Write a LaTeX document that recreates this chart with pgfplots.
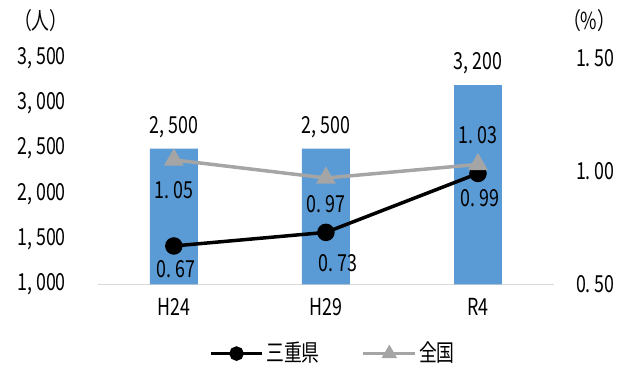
\documentclass[border=0pt]{standalone}
\usepackage{fontspec}
\setmainfont[FakeStretch=0.76]{Noto Sans CJK JP}
\usepackage{pgfplots}
\pgfplotsset{compat=1.18}
\definecolor{barblue}{HTML}{5B9BD5}
\definecolor{linegray}{HTML}{A5A5A5}
\begin{document}
\fontsize{23.5}{27}\selectfont
\begin{tikzpicture}
\begin{axis}[
  scale only axis, width=457pt, height=227pt,
  xmin=-0.5, xmax=2.5, ymin=1000, ymax=3500,
  xtick={0,1,2}, xticklabels={H24,H29,R4},
  ytick={1000,1500,2000,2500,3000,3500},
  yticklabels={{1,\,000},{1,\,500},{2,\,000},{2,\,500},{3,\,000},{3,\,500}},
  axis x line*=bottom, axis y line*=left,
  y axis line style={draw=none},
  x axis line style={draw=black!15, line width=1pt, -},
  tick style={draw=none},
  yticklabel style={xshift=-24pt},
  xticklabel style={yshift=-2pt},
  /pgf/number format/assume math mode=true,
  ybar, bar width=48pt,
  nodes near coords={\pgfmathprintnumber[assume math mode=true,1000 sep={,\,}]{\pgfplotspointmeta}},
  nodes near coords style={black, yshift=3pt},
  clip=false,
]
\addplot[fill=barblue, draw=none] coordinates {(0,2500) (1,2500) (2,3200)};
\node at (rel axis cs:-0.125,1.165) {（人）};
\node at (rel axis cs:1.077,1.165) {（\%）};
\end{axis}
\begin{axis}[
  scale only axis, width=457pt, height=227pt,
  xmin=-0.5, xmax=2.5, ymin=0.5, ymax=1.5,
  axis x line=none, axis y line*=right,
  y axis line style={draw=none},
  tick style={draw=none},
  ytick={0.5,1,1.5},
  yticklabels={{0.\,50},{1.\,00},{1.\,50}},
  yticklabel style={xshift=14pt},
  clip=false,
  point meta=explicit,
  visualization depends on={value \thisrow{dy} \as \dy},
  visualization depends on={value \thisrow{dx} \as \dx},
  nodes near coords={\pgfmathprintnumber[assume math mode=true,fixed,fixed zerofill,precision=2,dec sep={.\,}]{\pgfplotspointmeta}},
  nodes near coords style={black, anchor=center, yshift=\dy pt, xshift=\dx pt},
  legend style={at={(0.515,-0.235)}, anchor=north, draw=none, fill=none,
    legend columns=2, /tikz/every even column/.append style={column sep=40pt}},
  legend image code/.code={
    \draw[#1, mark size=5.5pt, mark repeat=2, mark phase=2] plot coordinates {(0pt,0pt) (26pt,0pt) (52pt,0pt)};},
]
\addplot[black, line width=3.5pt, mark=*, mark size=7pt, mark options={solid}] table[meta=v] {
x y v dx dy
0 0.67 0.67 2 -23
1 0.73 0.73 12 -31
2 0.99 0.99 2 -25
};
\addlegendentry{三重県}
\addplot[linegray, line width=3.5pt, mark=triangle*, mark size=8pt] table[meta=v] {
x y v dx dy
0 1.05 1.05 0 -30
1 0.97 0.97 0 -26
2 1.03 1.03 0 29
};
\addlegendentry{全国}
\end{axis}
\path[use as bounding box] ([xshift=-98pt,yshift=-80pt]current axis.south west) rectangle ([xshift=68pt,yshift=58pt]current axis.north east);
\end{tikzpicture}
\end{document}
